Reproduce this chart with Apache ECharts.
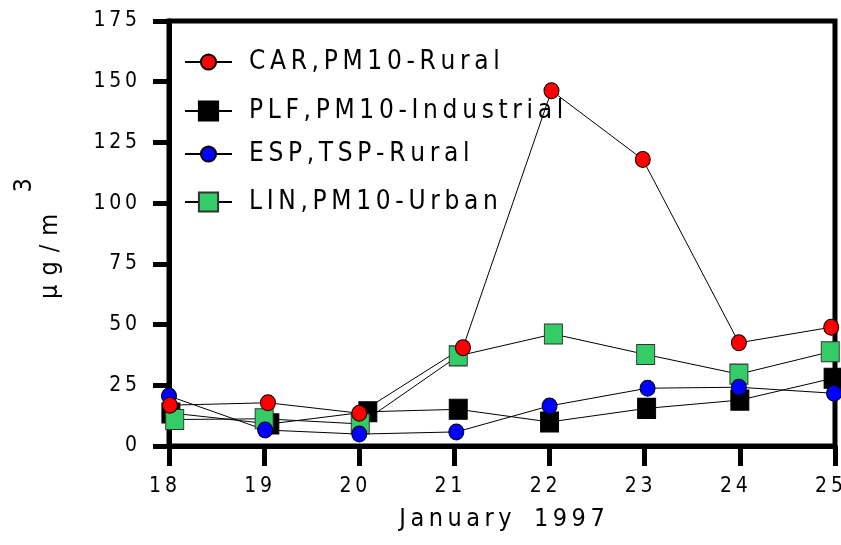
<!DOCTYPE html>
<html><head><meta charset="utf-8">
<script src="https://cdn.jsdelivr.net/npm/echarts@6/dist/echarts.min.js"></script>
<style>html,body{margin:0;padding:0;background:#fff}#c{width:841px;height:545px}</style>
</head><body><div id="c"></div>
<script>
// ---- data ----
const xTicks = [18, 19, 20, 21, 22, 23, 24, 25];
const yTicks = [0, 25, 50, 75, 100, 125, 150, 175];
const names = ['CAR, PM10-Rural', 'PLF, PM10-Industrial', 'ESP, TSP-Rural', 'LIN, PM10-Urban'];
const carX = [18.01, 19.04, 20.00, 21.09, 22.02, 22.98, 23.99, 24.96];
const carY = [16.8, 17.8, 13.5, 40.5, 146.3, 118.0, 42.5, 48.9];
const plfX = [18.02, 19.06, 20.09, 21.04, 22.00, 23.02, 24.00, 24.98];
const plfY = [13.6, 9.1, 14.1, 15.1, 9.9, 15.5, 18.9, 27.9];
const espX = [18.00, 19.01, 20.00, 21.02, 22.00, 23.03, 23.99, 24.99];
const espY = [20.6, 6.6, 4.9, 5.8, 16.5, 23.8, 24.2, 21.7];
const linX = [18.06, 19.00, 20.01, 21.04, 22.04, 23.01, 23.99, 24.95];
const linY = [10.9, 11.2, 9.1, 37.1, 46.1, 37.7, 29.6, 38.8];

const FONT = "'DejaVu Sans Condensed','Liberation Sans Narrow',sans-serif";
const TS = '\u2009';
const spaced = s => String(s).replace(', ', ',').split('').join(TS);
const pairs = (xs, ys) => xs.map((x, i) => [x, ys[i]]);

const chart = echarts.init(document.getElementById('c'), null, {renderer: 'canvas'});

function mkSeries(name, xs, ys, symbol, size, color, border) {
  return {
    name: name, type: 'line', data: pairs(xs, ys), clip: false,
    symbol: symbol, symbolSize: size, showAllSymbol: true,
    lineStyle: {color: '#000', width: 1},
    itemStyle: {color: color, borderColor: border, borderWidth: 1, opacity: 1},
    emphasis: {disabled: true}, animation: false
  };
}

function mkLegend(name, top, h) {
  return {
    data: [name], left: 184, top: top, padding: 0, orient: 'vertical',
    itemWidth: 47, itemHeight: h, selectedMode: false,
    textStyle: {fontFamily: FONT, fontSize: 26, color: '#000', padding: [0, 0, 0, 12]},
    formatter: n => spaced(n)
  };
}

chart.setOption({
  animation: false,
  backgroundColor: '#fff',
  grid: {left: 169, right: 6, top: 21, bottom: 99, show: true, borderColor: '#000', borderWidth: 5,
         containLabel: false, outerBoundsMode: 'none'},
  legend: [
    mkLegend(names[0], 49, 19),
    mkLegend(names[1], 98, 24),
    mkLegend(names[2], 141, 19),
    mkLegend(names[3], 189, 24)
  ],
  xAxis: {
    type: 'value', min: xTicks[0], max: xTicks[xTicks.length - 1], interval: 1,
    axisLine: {show: true, lineStyle: {color: '#000', width: 5}},
    axisTick: {show: true, length: 20, lineStyle: {color: '#000', width: 5}},
    splitLine: {show: false},
    axisLabel: {margin: 30, fontFamily: FONT, fontSize: 21, color: '#000', padding: [0, 12, 0, 0],
                formatter: v => spaced(v)},
    name: 'January 1997'.split('').join(TS).replace(TS + ' ' + TS, TS + TS + TS + TS + TS),
    nameLocation: 'middle', nameGap: 61,
    nameTextStyle: {fontFamily: FONT, fontSize: 25, color: '#000'}
  },
  yAxis: {
    type: 'value', min: yTicks[0], max: yTicks[yTicks.length - 1], interval: 25,
    axisLine: {show: true, lineStyle: {color: '#000', width: 5}},
    axisTick: {show: true, length: 16, lineStyle: {color: '#000', width: 5}},
    splitLine: {show: false},
    axisLabel: {margin: 32, fontFamily: FONT, fontSize: 21, color: '#000', formatter: v => spaced(v)},
    name: '{a|' + 'µg/m'.split('').join(TS + TS) + '}{s|   3}', nameLocation: 'middle', nameRotate: 90, nameGap: 106,
    nameTextStyle: {
      fontFamily: FONT, fontSize: 25, color: '#000',
      rich: {
        a: {fontFamily: FONT, fontSize: 25, color: '#000', verticalAlign: 'bottom'},
        s: {fontFamily: FONT, fontSize: 25, color: '#000', verticalAlign: 'top', padding: [0, 10, 26, 0]}
      }
    }
  },
  series: [
    mkSeries(names[1], plfX, plfY, 'rect', [18, 20], '#000000', '#000000'),
    mkSeries(names[3], linX, linY, 'rect', [18, 20], '#33cc66', '#333333'),
    mkSeries(names[2], espX, espY, 'circle', [15, 16], '#0000ff', '#000000'),
    mkSeries(names[0], carX, carY, 'circle', [15, 16], '#ff0000', '#000000')
  ]
});
</script></body></html>
